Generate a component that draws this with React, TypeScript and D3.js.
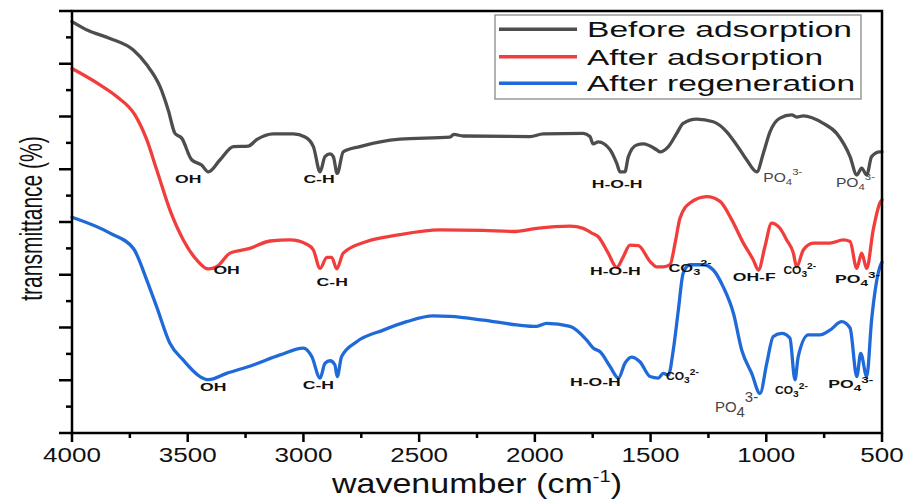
import React from 'react';
import * as d3 from 'd3';

// ---------- data ----------
const beforeWn = [4000,3930,3836,3735,3677,3620,3584,3555,3526,3483,3440,3411,3360,3303,3238,3202,3130,3044,2993,2957,2928,2907,2885,2871,2854,2828,2756,2583,2367,2350,2309,2021,1964,1791,1762,1748,1726,1675,1646,1632,1611,1596,1560,1531,1474,1459,1423,1387,1359,1301,1229,1171,1128,1085,1041,1013,984,941,890,869,840,754,696,638,609,588,566,545,509,500];
const beforeT = [7.80,7.63,7.48,7.26,6.98,6.57,6.12,5.68,5.59,5.18,5.08,4.95,5.18,5.43,5.44,5.56,5.67,5.67,5.61,5.43,4.95,5.24,5.29,5.24,4.92,5.33,5.43,5.57,5.61,5.66,5.63,5.62,5.67,5.68,5.62,5.48,5.52,5.37,5.11,4.95,4.95,5.24,5.46,5.48,5.37,5.33,5.43,5.68,5.87,5.95,5.90,5.71,5.46,5.18,4.95,5.30,5.71,5.97,6.03,5.99,6.01,5.87,5.68,5.24,4.89,5.02,4.89,5.24,5.33,5.33];

const afterAdsWn = [4000,3879,3807,3728,3677,3634,3577,3519,3461,3411,3375,3317,3231,3144,3058,2986,2957,2928,2899,2878,2856,2828,2727,2597,2410,2223,2093,1992,1848,1791,1754,1726,1683,1646,1618,1589,1553,1502,1474,1445,1416,1394,1373,1330,1257,1200,1149,1099,1056,1034,1006,977,941,912,883,869,840,797,725,667,638,609,588,566,538,509,500];
const afterAdsT = [6.91,6.60,6.38,6.03,5.56,4.99,4.23,3.66,3.28,3.11,3.15,3.41,3.50,3.64,3.66,3.58,3.47,3.12,3.33,3.33,3.11,3.41,3.63,3.75,3.85,3.84,3.82,3.88,3.92,3.88,3.79,3.72,3.41,3.14,3.34,3.56,3.55,3.25,3.15,3.15,3.19,3.60,4.07,4.36,4.48,4.39,4.04,3.60,3.28,3.09,3.53,3.98,3.88,3.66,3.41,3.15,3.47,3.60,3.60,3.66,3.63,3.12,3.41,3.12,3.85,4.36,4.42];

const regenWn = [4000,3836,3735,3677,3634,3577,3519,3447,3411,3332,3217,3101,3000,2964,2928,2907,2885,2864,2854,2835,2770,2655,2554,2439,2367,2223,2078,1992,1949,1848,1776,1748,1718,1675,1639,1611,1582,1546,1502,1467,1445,1423,1402,1380,1359,1330,1272,1229,1186,1142,1106,1063,1027,998,970,933,898,876,862,818,768,725,674,638,609,592,566,545,509,500];
const regenT = [4.09,3.79,3.50,2.90,2.39,1.70,1.38,1.07,1.01,1.13,1.29,1.48,1.61,1.45,1.04,1.32,1.37,1.29,1.07,1.45,1.73,1.95,2.11,2.22,2.21,2.14,2.05,2.02,2.08,2.02,1.76,1.61,1.54,1.26,1.04,1.32,1.44,1.35,1.07,1.04,1.13,1.10,1.57,2.33,3.03,3.19,3.19,3.09,2.77,2.27,1.57,1.13,0.75,1.32,1.83,1.89,1.80,1.01,1.45,1.86,1.86,1.95,2.11,1.99,1.07,1.51,1.07,2.14,3.15,3.24];

const seriesNames = ['Before adsorption', 'After adsorption', 'After regeneration'];
const seriesColors = ['#4d4d4d', '#f23d3d', '#1f6ad8'];

const xTickValues = [4000, 3500, 3000, 2500, 2000, 1500, 1000, 500];
const xMinorValues = [3750, 3250, 2750, 2250, 1750, 1250, 750];
const yMajorValues = [0, 1, 2, 3, 4, 5, 6, 7, 8];
const yMinorValues = [0.5, 1.5, 2.5, 3.5, 4.5, 5.5, 6.5, 7.5];

// annotations: text, subscript, superscript, wavenumber, transmittance (baseline), kind
const annText = ['OH','C-H','H-O-H','PO','PO', 'OH','C-H','H-O-H','CO','OH-F','CO','PO', 'OH','C-H','H-O-H','CO','PO','CO','PO'];
const annSub  = ['','','','4','4', '','','','3','','3','4', '','','','3','4','3','4'];
const annSup  = ['','','','3-','3-', '','','','2-','','2-','3-', '','','','2-','3-','2-','3-'];
const annWn   = [3555,3000,1754,1013,699, 3389,2943,1762,1423,1145,926,703, 3447,3003,1848,1433,1222,962,732];
const annT    = [4.73,4.73,4.64,4.75,4.67, 3.01,2.79,2.99,3.05,2.88,3.01,2.85, 0.80,0.83,0.89,1.00,0.40,0.74,0.86];
const annKind = ['b','b','b','g','g', 'b','b','b','bc','b','sc','b', 'b','b','b','sc','big','sc','b'];

// ---------- layout ----------
const W = 905, H = 501;
const X0 = 72, X1 = 882, Y0 = 433, Y1 = 11;
const FONT = "'Liberation Sans', Arial, sans-serif";

const x = d3.scaleLinear().domain([4000, 500]).range([X0, X1]);
const y = d3.scaleLinear().domain([0, 8]).range([Y0, Y1]);

const kinds: Record<string, any> = {
  b:   { size: 11, weight: 'bold', color: '#111', sx: 1.6, subSize: 8.5, subDy: 3, supDy: -8 },
  bc:  { size: 11, weight: 'bold', color: '#111', sx: 1.5, subSize: 8.5, subDy: 3, supDy: -9 },
  sc:  { size: 10, weight: 'bold', color: '#111', sx: 1.2, subSize: 8.5, subDy: 3, supDy: -8 },
  g:   { size: 13, weight: 'normal', color: '#444', sx: 1.2, subSize: 9.5, subDy: 3, supDy: -10 },
  big: { size: 14, weight: 'normal', color: '#444', sx: 1.07, subSize: 14, subDy: 5, supDy: -15 },
};

export default function App() {
  const line = d3.line<[number, number]>()
    .x(d => x(d[0]))
    .y(d => y(d[1]))
    .curve(d3.curveMonotoneX);

  const series = [
    { wn: beforeWn, t: beforeT },
    { wn: afterAdsWn, t: afterAdsT },
    { wn: regenWn, t: regenT },
  ].map((s, i) => ({
    name: seriesNames[i],
    color: seriesColors[i],
    pts: s.wn.map((w, j) => [w, s.t[j]] as [number, number]),
  }));

  const legendY = [29.3, 56.7, 83.3];
  const legendLen = [265, 236, 268];

  return (
    <svg width={W} height={H} style={{ position: 'absolute', left: 0, top: 0, background: '#fff' }}
      fontFamily={FONT}>
      <rect x={0} y={0} width={W} height={H} fill="#fff" />
      {/* curves */}
      {series.map((s, i) => (
        <path key={i} d={line(s.pts) || ''} fill="none" stroke={s.color} strokeWidth={3.3}
          strokeLinejoin="round" strokeLinecap="round" />
      ))}

      {/* annotations */}
      {annText.map((t, i) => {
        const k = kinds[annKind[i]];
        return (
          <g key={i} transform={`translate(${x(annWn[i])},${y(annT[i])}) scale(${k.sx},1)`}>
            <text fontSize={k.size} fontWeight={k.weight} fill={k.color}>
              {t}
              {annSub[i] && <tspan fontSize={k.subSize} dy={k.subDy}>{annSub[i]}</tspan>}
              {annSup[i] && <tspan fontSize={k.subSize} dy={k.supDy}>{annSup[i]}</tspan>}
            </text>
          </g>
        );
      })}

      {/* frame */}
      <rect x={X0} y={Y1} width={X1 - X0} height={Y0 - Y1} fill="none" stroke="#000" strokeWidth={2.5} />

      {/* y ticks */}
      {yMajorValues.map(v => (
        <line key={'ym' + v} x1={X0 - 13} x2={X0} y1={y(v)} y2={y(v)} stroke="#000" strokeWidth={2.5} />
      ))}
      {yMinorValues.map(v => (
        <line key={'yn' + v} x1={X0 - 6} x2={X0} y1={y(v)} y2={y(v)} stroke="#000" strokeWidth={2.5} />
      ))}

      {/* x ticks */}
      {xTickValues.map(v => (
        <g key={'xm' + v}>
          <line x1={x(v)} x2={x(v)} y1={Y0} y2={Y0 + 9} stroke="#000" strokeWidth={2.5} />
          <g transform={`translate(${x(v)},462) scale(1.24,1)`}>
            <text textAnchor="middle" fontSize={21} fill="#111">{v}</text>
          </g>
        </g>
      ))}
      {xMinorValues.map(v => (
        <line key={'xn' + v} x1={x(v)} x2={x(v)} y1={Y0} y2={Y0 + 5} stroke="#000" strokeWidth={2.5} />
      ))}

      {/* axis titles */}
      <g transform={`translate(${(X0 + X1) / 2},493) scale(1.26,1)`}>
        <text textAnchor="middle" fontSize={27} fill="#111">
          wavenumber (cm<tspan fontSize={16} dy={-11}>-1</tspan><tspan dy={11}>)</tspan>
        </text>
      </g>
      <g transform={`translate(41.5,218.5) scale(1.45,1) rotate(-90)`}>
        <text textAnchor="middle" fontSize={21} fill="#111">transmittance (%)</text>
      </g>

      {/* legend */}
      <rect x={495} y={15} width={366} height={84} fill="#fff" stroke="#999" strokeWidth={1.5} />
      {series.map((s, i) => (
        <g key={'lg' + i}>
          <line x1={499} x2={577} y1={legendY[i]} y2={legendY[i]} stroke={s.color} strokeWidth={3.5} />
          <text x={587} y={legendY[i] + 7.9} fontSize={22} fill="#111"
            textLength={legendLen[i]} lengthAdjust="spacingAndGlyphs">{s.name}</text>
        </g>
      ))}
    </svg>
  );
}
